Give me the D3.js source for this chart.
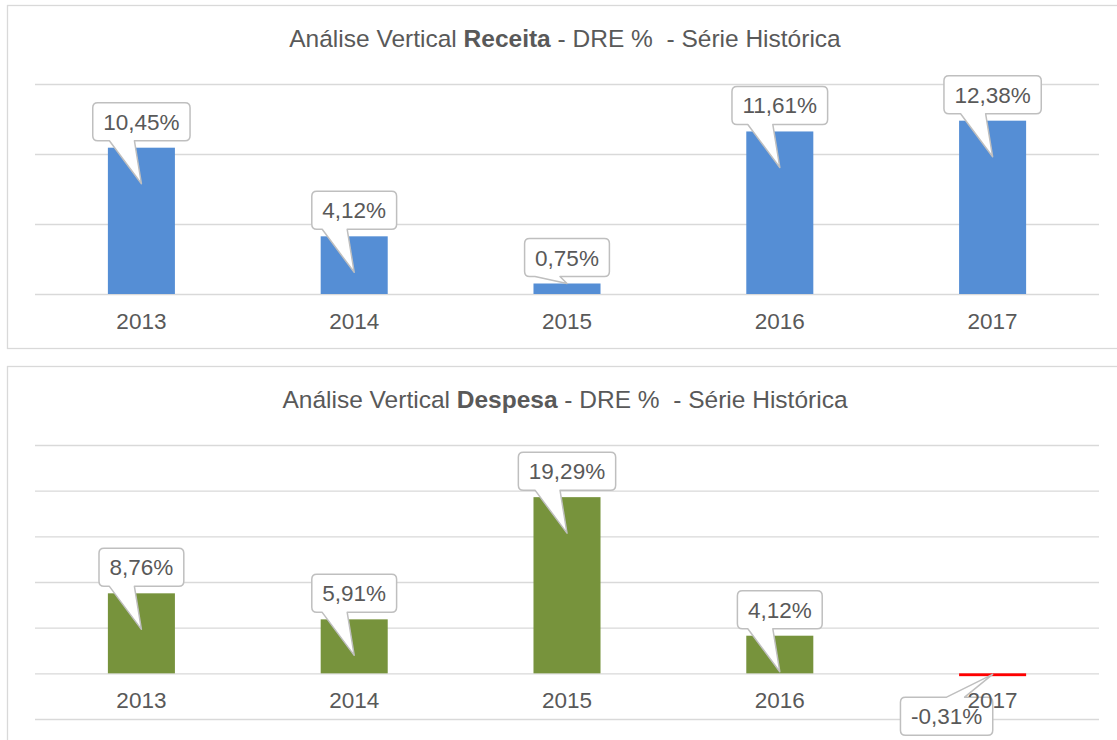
<!DOCTYPE html>
<html>
<head>
<meta charset="utf-8">
<script src="https://cdn.jsdelivr.net/npm/d3@7"></script>
<style>
  body { margin: 0; background: #fff; }
  svg { display: block; font-family: "Liberation Sans", Arial, sans-serif; }
  .grid line { stroke: #d9d9d9; stroke-width: 1.4; }
  .grid path { display: none; }
  .xaxis path { display: none; }
  .xaxis text { fill: #595959; font-size: 22.5px; }
</style>
</head>
<body>
<div id="chart"></div>
<script>
var years = ["2013", "2014", "2015", "2016", "2017"];
var receita = [10.45, 4.12, 0.75, 11.61, 12.38];
var despesa = [8.76, 5.91, 19.29, 4.12, -0.31];
var receitaTicks = [0, 5, 10, 15];
var despesaTicks = [-5, 0, 5, 10, 15, 20, 25];

var width = 1117, height = 740;

var svg = d3.select('#chart').append('svg')
  .attr('width', width)
  .attr('height', height);

var ptBR = d3.formatLocale({ decimal: ",", thousands: ".", grouping: [3], currency: ["R$", ""], minus: "-" });
var fmt = ptBR.format(".2f");

// callout path: rounded box with a wedge tail going to (tx,ty)
function calloutPath(x0, y0, x1, y1, a, b, tx, ty, side) {
  var r = 5;
  var p = "M" + (x0 + r) + "," + y0;
  if (side === "top") p += "H" + a + "L" + tx + "," + ty + "L" + b + "," + y0;
  p += "H" + (x1 - r) + "Q" + x1 + "," + y0 + " " + x1 + "," + (y0 + r);
  p += "V" + (y1 - r) + "Q" + x1 + "," + y1 + " " + (x1 - r) + "," + y1;
  if (side === "bottom") p += "H" + b + "L" + tx + "," + ty + "L" + a + "," + y1;
  p += "H" + (x0 + r) + "Q" + x0 + "," + y1 + " " + x0 + "," + (y1 - r);
  p += "V" + (y0 + r) + "Q" + x0 + "," + y0 + " " + (x0 + r) + "," + y0 + "Z";
  return p;
}

function panel(opt) {
  var top = opt.top;
  var g = svg.append('g');

  g.append('rect')
    .attr('x', 7.5).attr('y', top + 0.5)
    .attr('width', 1130).attr('height', opt.boxH)
    .attr('fill', '#fff').attr('stroke', '#d9d9d9').attr('stroke-width', 1.3);

  var title = g.append('text')
    .attr('x', 565).attr('y', top + 42)
    .attr('text-anchor', 'middle')
    .attr('fill', '#595959')
    .style('font-size', '24.5px');
  title.append('tspan').text('Análise Vertical ');
  title.append('tspan').style('font-weight', 'bold').text(opt.bold);
  title.append('tspan').text(' - DRE %\u00a0\u00a0- Série Histórica');

  var x = d3.scaleBand()
    .domain(years)
    .range([35, 1099])
    .paddingInner(0.685)
    .paddingOuter(0.3425);

  var y = d3.scaleLinear()
    .domain(opt.domain)
    .range([top + 79 + opt.plotH, top + 79]);

  g.append('g')
    .attr('class', 'grid')
    .attr('transform', 'translate(35,0)')
    .call(d3.axisLeft(y).tickValues(opt.ticks).tickSize(-(1099 - 35)).tickFormat(''));

  var data = years.map(function(d, i) { return { year: d, v: opt.values[i] }; });

  g.selectAll('.bar')
    .data(data)
    .enter().append('rect')
    .attr('class', 'bar')
    .attr('x', function(d) { return x(d.year); })
    .attr('width', x.bandwidth())
    .attr('y', function(d) { return y(Math.max(0, d.v)); })
    .attr('height', function(d) { return Math.abs(y(d.v) - y(0)); })
    .attr('fill', function(d) { return d.v < 0 ? '#ff0000' : opt.color; });

  // callouts
  var labels = g.selectAll('.callout')
    .data(data)
    .enter().append('g')
    .attr('class', 'callout');

  labels.each(function(d) {
    var el = d3.select(this);
    var cx = x(d.year) + x.bandwidth() / 2;
    var txt = el.append('text')
      .attr('fill', '#595959')
      .style('font-size', '22.5px')
      .attr('text-anchor', 'middle')
      .text(fmt(d.v) + '%');
    var tw = txt.node().getComputedTextLength();
    var bw = tw + 21, bh = 38;
    var x0, y0, tx, ty, a, b, side;
    if (d.v >= 0) {
      var barTop = y(d.v), h = y(0) - barTop;
      x0 = cx - bw / 2;
      y0 = barTop - 7 - bh;
      tx = cx;
      ty = barTop + (h > 20 ? Math.min(36, h) : 0);
      a = cx - 32; b = cx - 7;
      side = 'bottom';
    } else {
      var barBot = y(d.v);
      var bcx = cx - 46;
      x0 = bcx - bw / 2;
      y0 = barBot + 21;
      tx = cx; ty = y(0) + 1;
      a = bcx; b = bcx + 18;
      side = 'top';
    }
    el.insert('path', 'text')
      .attr('d', calloutPath(x0, y0, x0 + bw, y0 + bh, a, b, tx, ty, side))
      .attr('fill', '#fff')
      .attr('stroke', '#bfbfbf')
      .attr('stroke-width', 1.5)
      .attr('stroke-linejoin', 'round');
    txt.attr('x', x0 + bw / 2).attr('y', y0 + bh / 2 + 8);
  });

  var xa = g.append('g')
    .attr('class', 'xaxis')
    .attr('transform', 'translate(0,' + y(0) + ')')
    .call(d3.axisBottom(x).tickSize(0));
  xa.selectAll('text').attr('dy', null).attr('y', 35);
}

panel({ top: 5, boxH: 343, bold: 'Receita', values: receita, color: '#558ed5',
        domain: [0, 15], ticks: receitaTicks, plotH: 210 });
panel({ top: 366, boxH: 400, bold: 'Despesa', values: despesa, color: '#77933c',
        domain: [-5, 25], ticks: despesaTicks, plotH: 274 });
</script>
</body>
</html>
